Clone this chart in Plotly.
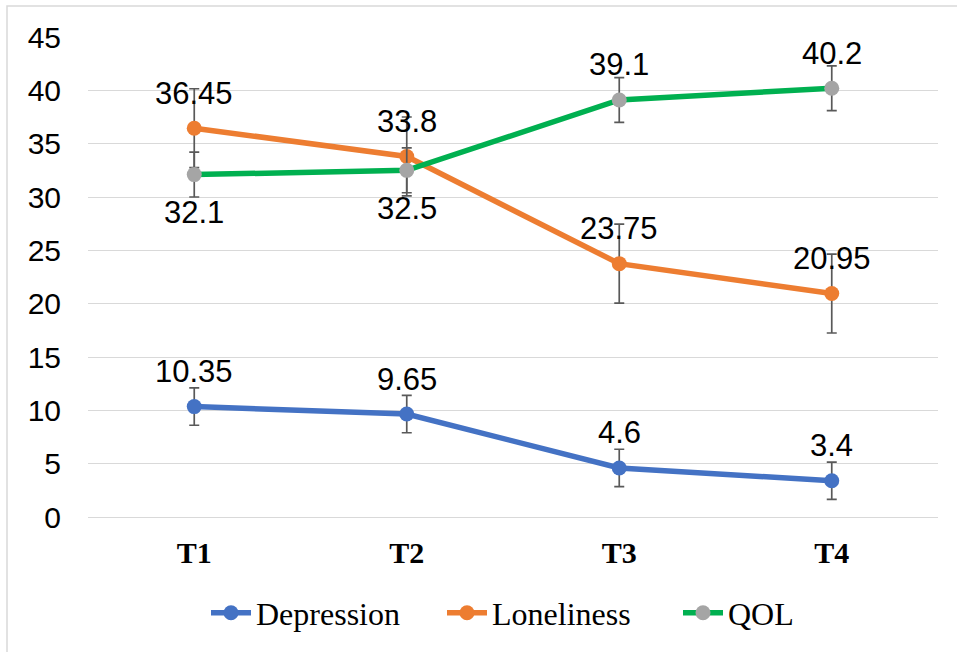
import plotly.graph_objects as go

categories = ["T1", "T2", "T3", "T4"]
depression = [10.35, 9.65, 4.6, 3.4]
loneliness = [36.45, 33.8, 23.75, 20.95]
qol = [32.1, 32.5, 39.1, 40.2]
depression_err = [1.75, 1.75, 1.75, 1.75]
loneliness_err = [3.7, 3.7, 3.7, 3.7]
qol_err = [2.1, 2.1, 2.1, 2.1]
qol_label_pos = ["below", "below", "above", "above"]
y_ticks = [0, 5, 10, 15, 20, 25, 30, 35, 40, 45]

W, H = 957, 652
ML, MR, MT, MB = 88, 19, 37, 135
ERR_COLOR = "#595959"

fig = go.Figure()

series = [
    ("Depression", depression, depression_err, "#4472C4", "#4472C4"),
    ("Loneliness", loneliness, loneliness_err, "#ED7D31", "#ED7D31"),
    ("QOL", qol, qol_err, "#00B050", "#A5A5A5"),
]
for name, vals, errs, lc, mc in series:
    fig.add_trace(go.Scatter(
        x=categories, y=vals, name=name, mode="lines+markers",
        line=dict(color=lc, width=5.5),
        marker=dict(color=mc, size=15),
        error_y=dict(type="data", array=errs, visible=True,
                     color=ERR_COLOR, thickness=1.7, width=5),
        hoverinfo="skip",
    ))

annotations = []
label_pos = {
    "Depression": ["above"] * 4,
    "Loneliness": ["above"] * 4,
    "QOL": qol_label_pos,
}
for name, vals, _, _, _ in series:
    for cat, v, pos in zip(categories, vals, label_pos[name]):
        annotations.append(dict(
            x=cat, y=v, xref="x", yref="y", text=f"{v:g}",
            showarrow=False, yshift=35 if pos == "above" else -38,
            font=dict(family="Liberation Sans, Arial", size=31, color="#000000"),
        ))

pw = W - ML - MR
ph = H - MT - MB
def px_x(p):
    return (p - ML) / pw
def px_y(p):
    return (H - MB - p) / ph

fig.update_layout(
    width=W, height=H,
    margin=dict(l=ML, r=MR, t=MT, b=MB),
    paper_bgcolor="#FFFFFF", plot_bgcolor="#FFFFFF",
    showlegend=True,
    legend=dict(orientation="h", x=px_x(206), xanchor="left",
                y=px_y(613), yanchor="middle",
                font=dict(family="Liberation Serif, Times New Roman", size=32, color="#000000"),
                bgcolor="rgba(0,0,0,0)", itemwidth=40,
                entrywidth=181, entrywidthmode="pixels"),
    annotations=annotations,
    shapes=[dict(type="rect", xref="paper", yref="paper",
                 x0=px_x(7), x1=px_x(975), y0=px_y(670), y1=px_y(6),
                 line=dict(color="#D9D9D9", width=1.5), layer="below")],
    xaxis=dict(range=[-0.5, 3.5], showgrid=False, showline=False, zeroline=False,
               ticks="", ticklabelstandoff=15,
               tickfont=dict(family="Liberation Serif, Times New Roman", size=30,
                             color="#000000", weight="bold")),
    yaxis=dict(range=[0, 45], tickvals=y_ticks, showgrid=True,
               gridcolor="#D9D9D9", gridwidth=1, zeroline=True,
               zerolinecolor="#D9D9D9", zerolinewidth=1, showline=False,
               ticks="", ticklabelstandoff=26,
               tickfont=dict(family="Liberation Sans, Arial", size=30, color="#000000")),
)

fig.write_html("out.html", config={"displayModeBar": False},
               post_script="document.body.style.margin='0';")
